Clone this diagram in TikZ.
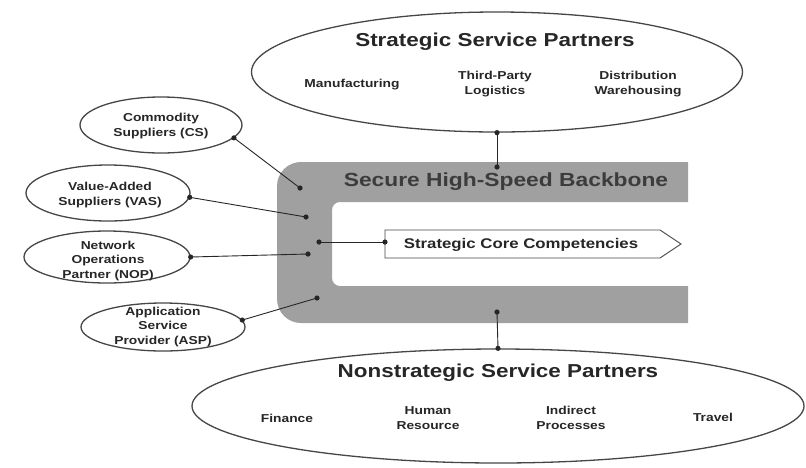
\documentclass[tikz,border=0pt]{standalone}
\usepackage{fontspec}
\setmainfont{Liberation Sans}
\newfontfamily\diagfont[FakeStretch=1.2]{Liberation Sans}
\usetikzlibrary{shapes.geometric}
\definecolor{ink}{RGB}{38,38,38}
\definecolor{rim}{RGB}{70,70,70}
\definecolor{band}{RGB}{160,160,160}

\begin{document}
\begin{tikzpicture}[x=1pt,y=-1pt,
  oval/.style={ellipse, draw=rim, line width=1.3pt, inner sep=0pt},
  bigtitle/.style={font=\diagfont\bfseries\fontsize{18.7}{22}\selectfont, text=ink, inner sep=0pt},
  lbl/.style={font=\diagfont\bfseries\fontsize{11.5}{14.5}\selectfont, text=ink, align=center, inner sep=0pt},
  link/.style={draw=ink, line width=0.9pt},
  dotmark/.style={fill=ink}
]
\useasboundingbox (0,0) rectangle (806,467);

% C-shaped secure backbone band
\begin{scope}
  \clip (0,0) rectangle (688,467);
  \fill[band, even odd rule, rounded corners=24pt] (277,162) rectangle (760,323)
       [rounded corners=8pt] (332,202) rectangle (780,286);
\end{scope}
\node[font=\diagfont\bfseries\fontsize{19}{22}\selectfont, text=ink!90, inner sep=0pt] (bbtext) at (506,182) {Secure High-Speed Backbone};

% attachment points on the band
\coordinate (bbT) at (497,167);
\coordinate (bbB) at (497,312);
\coordinate (bb1) at (300,188);
\coordinate (bb2) at (306,217);
\coordinate (bb3) at (319,242);
\coordinate (bb4) at (308,254);
\coordinate (bb5) at (317,298);

% strategic core competencies pointer
\draw[rim, line width=0.9pt, fill=white] (385,230) -- (660,230) -- (681,244) -- (660,258) -- (385,258) -- cycle;
\node[font=\diagfont\bfseries\fontsize{14}{16}\selectfont, text=ink, inner sep=0pt] (core) at (521,245) {Strategic Core Competencies};
\coordinate (coreL) at (385,242);

% strategic partners
\node[oval, minimum width=491pt, minimum height=120pt] (ssp) at (497,72) {};
\node[bigtitle] (ssptitle) at (495,42) {Strategic Service Partners};
\node[lbl] (mfg) at (352,85) {Manufacturing};
\node[lbl] (tpl) at (495,84) {Third-Party\\Logistics};
\node[lbl] (dist) at (638,84) {Distribution\\Warehousing};

% nonstrategic partners
\node[oval, minimum width=612pt, minimum height=114pt] (nsp) at (498,406) {};
\node[bigtitle] (nsptitle) at (498,373) {Nonstrategic Service Partners};
\node[lbl] (fin) at (287,418) {Finance};
\node[lbl] (hr) at (428,418) {Human\\Resource};
\node[lbl] (ind) at (571,418) {Indirect\\Processes};
\node[lbl] (trv) at (713,417) {Travel};

% supplier and provider ellipses
\node[oval, minimum width=162pt, minimum height=56pt] (cs) at (161,125) {};
\node[lbl] at (161,126) {Commodity\\Suppliers (CS)};
\node[oval, minimum width=164pt, minimum height=56pt] (vas) at (108,193) {};
\node[lbl] at (110,195) {Value-Added\\Suppliers (VAS)};
\node[oval, minimum width=166pt, minimum height=52pt] (nop) at (107,257) {};
\node[lbl] at (108,261) {Network\\Operations\\Partner (NOP)};
\node[oval, minimum width=164pt, minimum height=48pt] (asp) at (163,327) {};
\node[lbl] at (163,327) {Application\\Service\\Provider (ASP)};

% connectors
\draw[link] (ssp.south) -- (bbT);
\draw[link] (nsp.north) -- (bbB);
\draw[link] (cs.-10) -- (bb1);
\draw[link] (vas.-3) -- (bb2);
\draw[link] (bb3) -- (coreL);
\draw[link] (nop.east) -- (bb4);
\draw[link] (asp.5) -- (bb5);

% connector end dots
\foreach \p in {ssp.south, bbT, nsp.north, bbB, cs.-10, bb1, vas.-3, bb2, bb3, coreL, nop.east, bb4, asp.5, bb5}
  \fill[dotmark] (\p) circle (2.6pt);
\end{tikzpicture}
\end{document}
